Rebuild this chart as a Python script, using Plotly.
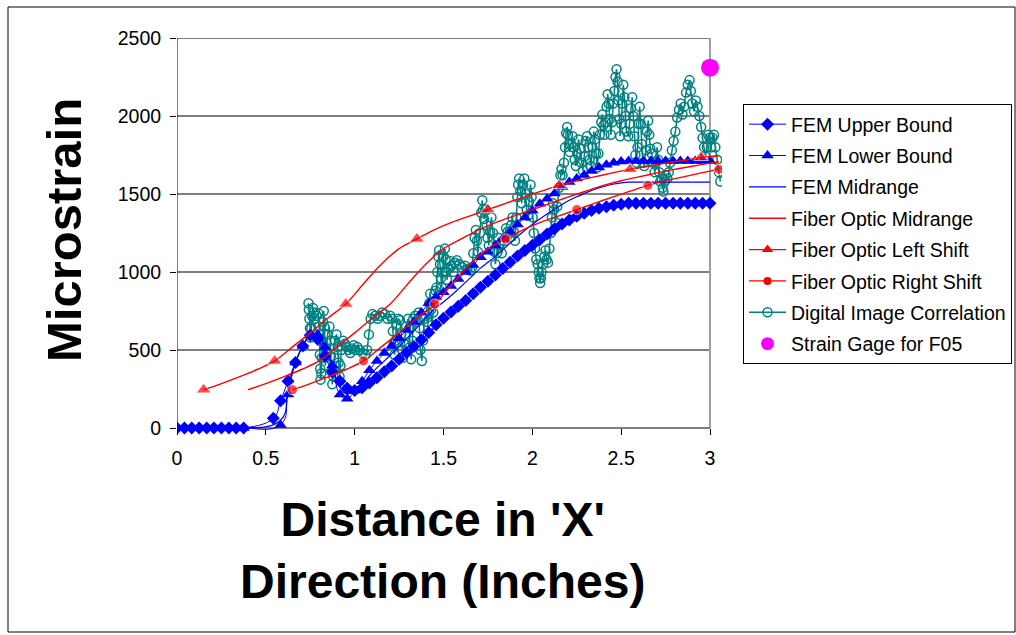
import plotly.graph_objects as go

# ---------------- data ----------------
# FEM node positions (inches)
fem_x = [0.000, 0.042, 0.083, 0.125, 0.167, 0.208, 0.250, 0.292, 0.333, 0.375,
         0.583, 0.625, 0.667, 0.708, 0.750, 0.792, 0.833, 0.875, 0.917, 0.958,
         1.000, 1.042, 1.083, 1.125, 1.167, 1.208, 1.250, 1.292, 1.333, 1.375,
         1.417, 1.458, 1.500, 1.542, 1.583, 1.625, 1.667, 1.708, 1.750, 1.792,
         1.833, 1.875, 1.917, 1.958, 2.000, 2.042, 2.083, 2.125, 2.167, 2.208,
         2.250, 2.292, 2.333, 2.375, 2.417, 2.458, 2.500, 2.542, 2.583, 2.625,
         2.667, 2.708, 2.750, 2.792, 2.833, 2.875, 2.917, 2.958, 3.000]
fem_upper_x = [0.000, 0.042, 0.083, 0.125, 0.167, 0.208, 0.250, 0.292, 0.333, 0.375,
               0.542, 0.583, 0.625, 0.667, 0.708, 0.750, 0.792, 0.833, 0.875, 0.917, 0.958,
               1.000, 1.042, 1.083, 1.125, 1.167, 1.208, 1.250, 1.292, 1.333, 1.375,
               1.417, 1.458, 1.500, 1.542, 1.583, 1.625, 1.667, 1.708, 1.750, 1.792,
               1.833, 1.875, 1.917, 1.958, 2.000, 2.042, 2.083, 2.125, 2.167, 2.208,
               2.250, 2.292, 2.333, 2.375, 2.417, 2.458, 2.500, 2.542, 2.583, 2.625,
               2.667, 2.708, 2.750, 2.792, 2.833, 2.875, 2.917, 2.958, 3.000]

fem_upper = [0, 0, 0, 0, 0, 0, 0, 0, 0, 0,
             62, 175, 300, 420, 525, 595, 570, 460, 360, 300, 255,
             240, 258, 288, 322, 360, 398, 440, 482, 522, 566,
             612, 662, 704, 744, 780, 818, 860, 902, 940, 980,
             1022, 1063, 1102, 1138, 1172, 1206, 1244, 1278, 1308, 1334,
             1357, 1377, 1395, 1408, 1419, 1428, 1435, 1440, 1440, 1440,
             1440, 1440, 1440, 1440, 1440, 1440, 1440, 1440, 1440]

fem_lower = [0, 0, 0, 0, 0, 0, 0, 0, 0, 0,
             20, 215, 420, 525, 595, 600, 520, 400, 215, 188,
             240, 300, 370, 430, 480, 525, 575, 630, 680, 740,
             800, 840, 870, 910, 955, 1000, 1045, 1095, 1130, 1170,
             1215, 1258, 1305, 1350, 1395, 1437, 1470, 1503, 1545, 1577,
             1600, 1622, 1648, 1670, 1688, 1700, 1708, 1712, 1712, 1712,
             1712, 1712, 1712, 1712, 1712, 1712, 1712, 1712, 1712]

fem_mid = [0, 0, 0, 0, 0, 0, 0, 0, 0, 0,
           50, 255, 420, 525, 592, 595, 500, 390, 260, 218,
           240, 280, 335, 385, 430, 475, 522, 572, 622, 675,
           728, 772, 808, 848, 890, 935, 980, 1025, 1062, 1100,
           1142, 1185, 1228, 1268, 1305, 1340, 1372, 1402, 1432, 1460,
           1482, 1503, 1523, 1539, 1553, 1564, 1571, 1576, 1576, 1576,
           1576, 1576, 1576, 1576, 1576, 1576, 1576, 1576, 1576]

# Fiber optic midrange profile; the left/right shifted curves move it by +/- fo_shift
fo_x = [0.4, 0.5, 0.6, 0.7, 0.8, 0.9, 1.0, 1.1, 1.2, 1.3,
        1.4, 1.5, 1.6, 1.7, 1.8, 1.9, 2.0, 2.1, 2.2, 2.3,
        2.4, 2.5, 2.6, 2.7, 2.8, 2.9, 3.0, 3.05, 3.1, 3.2, 3.3]
fo_mid = [245, 285, 328, 375, 430, 520, 610, 705, 795, 925,
          1050, 1150, 1212, 1272, 1320, 1360, 1400, 1440, 1480, 1518,
          1555, 1585, 1610, 1635, 1658, 1678, 1698, 1707, 1715, 1735, 1745]
fo_marker_nodes = [0.4, 0.8, 1.2, 1.6, 2.0, 2.4, 2.8, 3.2]
fo_shift = 0.25

# Digital image correlation readings
dic_x = [0.740, 0.742, 0.745, 0.748, 0.752, 0.756, 0.760, 0.765, 0.770, 0.775,
         0.785, 0.795, 0.800, 0.802, 0.804, 0.806, 0.808, 0.812, 0.815, 0.818,
         0.822, 0.826, 0.830, 0.832, 0.835, 0.840, 0.848, 0.858, 0.862, 0.866,
         0.870, 0.874, 0.880, 0.885, 0.890, 0.898, 0.905, 0.910, 0.915, 0.920,
         0.925, 0.935, 0.945, 0.955, 0.965, 0.975, 0.985, 0.995, 1.005, 1.015,
         1.030, 1.045, 1.060, 1.070, 1.080, 1.090, 1.100, 1.115, 1.130, 1.140,
         1.155, 1.170, 1.185, 1.200, 1.210, 1.215, 1.220, 1.225, 1.230, 1.235,
         1.245, 1.255, 1.262, 1.268, 1.272, 1.280, 1.290, 1.300, 1.308, 1.312,
         1.318, 1.325, 1.330, 1.340, 1.350, 1.360, 1.365, 1.370, 1.378, 1.385,
         1.392, 1.400, 1.410, 1.420, 1.425, 1.430, 1.436, 1.442, 1.448, 1.455,
         1.460, 1.465, 1.470, 1.475, 1.480, 1.485, 1.490, 1.495, 1.500, 1.508,
         1.512, 1.516, 1.520, 1.528, 1.535, 1.545, 1.555, 1.565, 1.575, 1.590,
         1.605, 1.620, 1.635, 1.650, 1.660, 1.668, 1.675, 1.682, 1.688, 1.694,
         1.705, 1.712, 1.718, 1.722, 1.728, 1.735, 1.742, 1.748, 1.755, 1.762,
         1.770, 1.778, 1.786, 1.792, 1.800, 1.808, 1.818, 1.828, 1.840, 1.852,
         1.862, 1.872, 1.880, 1.888, 1.895, 1.902, 1.910, 1.915, 1.920, 1.926,
         1.932, 1.940, 1.948, 1.955, 1.962, 1.968, 1.975, 1.982, 1.990, 1.996,
         2.002, 2.008, 2.015, 2.022, 2.030, 2.036, 2.040, 2.044, 2.048, 2.052,
         2.060, 2.068, 2.074, 2.080, 2.088, 2.096, 2.104, 2.110, 2.116, 2.122,
         2.130, 2.140, 2.150, 2.158, 2.164, 2.170, 2.178, 2.184, 2.190, 2.196,
         2.200, 2.205, 2.210, 2.218, 2.226, 2.232, 2.238, 2.245, 2.252, 2.260,
         2.268, 2.276, 2.284, 2.292, 2.300, 2.308, 2.315, 2.322, 2.330, 2.338,
         2.346, 2.352, 2.358, 2.365, 2.372, 2.380, 2.388, 2.394, 2.400, 2.406,
         2.412, 2.418, 2.424, 2.430, 2.436, 2.442, 2.448, 2.455, 2.462, 2.468,
         2.474, 2.480, 2.485, 2.490, 2.494, 2.500, 2.506, 2.512, 2.518, 2.524,
         2.530, 2.540, 2.548, 2.555, 2.562, 2.568, 2.574, 2.580, 2.586, 2.592,
         2.598, 2.604, 2.610, 2.616, 2.622, 2.630, 2.638, 2.645, 2.652, 2.658,
         2.664, 2.672, 2.680, 2.688, 2.695, 2.702, 2.708, 2.714, 2.720, 2.728,
         2.734, 2.738, 2.745, 2.752, 2.760, 2.768, 2.775, 2.785, 2.795, 2.805,
         2.815, 2.825, 2.835, 2.845, 2.855, 2.865, 2.875, 2.885, 2.892, 2.900,
         2.910, 2.920, 2.930, 2.940, 2.950, 2.958, 2.966, 2.974, 2.982, 2.990,
         2.998, 3.006, 3.014, 3.022, 3.030, 3.040, 3.050, 3.058]
dic_y = [800, 760, 700, 640, 580, 640, 720, 770, 740, 700,
         720, 735, 650, 560, 470, 380, 310, 350, 450, 560,
         680, 750, 650, 520, 400, 480, 600, 650, 560, 460,
         360, 280, 330, 450, 560, 600, 520, 420, 330, 400,
         500, 560, 540, 520, 500, 480, 510, 530, 500, 520,
         500, 480, 470, 500, 600, 700, 730, 720, 700, 720,
         740, 730, 700, 720, 700, 620, 540, 470, 560, 660,
         700, 690, 600, 500, 450, 540, 650, 700, 640, 520,
         440, 560, 700, 720, 680, 740, 640, 500, 430, 560,
         700, 720, 680, 800, 860, 760, 660, 740, 860, 880,
         900, 1000, 1100, 1140, 1050, 960, 900, 1000, 1100, 1150,
         1080, 1000, 950, 1020, 1070, 1040, 1000, 1060, 1075, 1050,
         1030, 1040, 1020, 1010, 1030, 1120, 1220, 1270, 1200, 1130,
         1250, 1380, 1460, 1400, 1340, 1400, 1300, 1220, 1170, 1260,
         1350, 1250, 1130, 1050, 1120, 1220, 1180, 1120, 1200, 1280,
         1260, 1220, 1300, 1350, 1260, 1200, 1350, 1480, 1560, 1600,
         1520, 1440, 1560, 1600, 1500, 1400, 1360, 1450, 1560, 1480,
         1350, 1250, 1150, 1080, 1050, 1000, 960, 930, 960, 1000,
         1050, 1100, 1140, 1080, 1060, 1150, 1250, 1350, 1440, 1400,
         1320, 1420, 1540, 1620, 1660, 1620, 1700, 1800, 1890, 1930,
         1880, 1820, 1770, 1820, 1870, 1800, 1720, 1680, 1760, 1850,
         1790, 1700, 1650, 1740, 1840, 1870, 1800, 1720, 1680, 1800,
         1900, 1850, 1760, 1670, 1760, 1880, 1960, 2010, 1940, 1880,
         1960, 2060, 2140, 2080, 1980, 1880, 1960, 2080, 2160, 2250,
         2300, 2220, 2100, 1980, 1870, 1950, 2080, 2200, 2120, 2000,
         1900, 1870, 1950, 2050, 2120, 2000, 1870, 1750, 1700, 1800,
         1950, 2060, 1950, 1820, 1700, 1680, 1780, 1900, 1970, 1880,
         1790, 1760, 1700, 1640, 1700, 1800, 1720, 1640, 1580, 1600,
         1540, 1515, 1580, 1620, 1600, 1640, 1700, 1780, 1840, 1900,
         1990, 2040, 2080, 2010, 2060, 2150, 2200, 2230, 2160, 2080,
         2030, 2100, 2060, 2000, 1930, 1860, 1800, 1740, 1800, 1880,
         1860, 1800, 1860, 1880, 1800, 1720, 1640, 1580]

gage_x = [3.0]
gage_y = [2310]

x_ticks = [0, 0.5, 1, 1.5, 2, 2.5, 3]
x_tick_text = ["0", "0.5", "1", "1.5", "2", "2.5", "3"]
y_ticks = [0, 500, 1000, 1500, 2000, 2500]
grid_levels = [500, 1000, 1500, 2000, 2500]

# ---------------- layout geometry (pixels) ----------------
W, H = 1016, 635
L, R, T, B = 177, 294, 38, 193
PW, PH = W - L - R, H - T - B
X_MAX = 3.0675
Y_MIN = -89.74
X_END = 3.06


def px(xp):
    return (xp - L) / PW


def py(yp):
    return (H - B - yp) / PH


FONT = "Liberation Sans, Arial, sans-serif"
BLUE = "#0000FF"
RED = "#FF0000"
TEAL = "#008080"


def clip(xs, ys):
    pts = [(a, b) for a, b in zip(xs, ys) if a <= X_END + 1e-9]
    return [p[0] for p in pts], [p[1] for p in pts]


def legend_entry(name, rank, line_color, marker=None):
    """Data-free trace that only supplies a legend swatch."""
    return go.Scatter(
        x=[None], y=[None], name=name,
        mode="lines+markers" if marker else "lines",
        line=dict(color=line_color, width=1.4),
        marker=marker, legendrank=rank, legendgroup="g%d" % rank)


fig = go.Figure()

# DIC first so the model curves sit on top of it
fig.add_trace(go.Scatter(
    x=dic_x, y=dic_y, mode="lines+markers", name="Digital Image Correlation",
    line=dict(color=TEAL, width=1.5),
    marker=dict(symbol="circle-open", size=9, color=TEAL, line=dict(width=1.5)),
    legendrank=7, legendgroup="g7"))

fig.add_trace(go.Scatter(
    x=fem_upper_x, y=fem_upper, mode="lines+markers", name="FEM Upper Bound",
    line=dict(color=BLUE, width=1, shape="spline", smoothing=1.3),
    marker=dict(symbol="diamond", size=10, color=BLUE),
    legendrank=1, legendgroup="g1"))
fig.add_trace(go.Scatter(
    x=fem_x, y=fem_lower, mode="lines+markers", name="FEM Lower Bound",
    line=dict(color=BLUE, width=1, shape="spline", smoothing=1.3),
    marker=dict(symbol="triangle-up", size=11, color=BLUE),
    legendrank=2, legendgroup="g2"))
fig.add_trace(go.Scatter(
    x=fem_x, y=fem_mid, mode="lines", name="FEM Midrange",
    line=dict(color=BLUE, width=1.2, shape="spline", smoothing=1.3),
    legendrank=3, legendgroup="g3"))

mx, my = clip(fo_x, fo_mid)
fig.add_trace(go.Scatter(
    x=mx, y=my, mode="lines", name="Fiber Optic Midrange",
    line=dict(color=RED, width=1.4, shape="spline"),
    legendrank=4, legendgroup="g4"))

lx, ly = clip([v - fo_shift for v in fo_x], fo_mid)
l_sizes = [13 if any(abs(v + fo_shift - n) < 1e-6 for n in fo_marker_nodes) else 0 for v in lx]
fig.add_trace(go.Scatter(
    x=lx, y=ly, mode="lines+markers", name="Fiber Optic Left Shift",
    line=dict(color=RED, width=1.4, shape="spline"),
    marker=dict(symbol="triangle-up", size=l_sizes, color=RED),
    showlegend=False, legendgroup="g5"))
fig.add_trace(legend_entry("Fiber Optic Left Shift", 5, RED,
                           dict(symbol="triangle-up", size=10, color=RED)))

rx, ry = clip([v + fo_shift for v in fo_x], fo_mid)
r_sizes = [10 if any(abs(v - fo_shift - n) < 1e-6 for n in fo_marker_nodes) else 0 for v in rx]
fig.add_trace(go.Scatter(
    x=rx, y=ry, mode="lines+markers", name="Fiber Optic Right Shift",
    line=dict(color=RED, width=1.4, shape="spline"),
    marker=dict(symbol="circle", size=r_sizes, color=RED),
    showlegend=False, legendgroup="g6"))
fig.add_trace(legend_entry("Fiber Optic Right Shift", 6, RED,
                           dict(symbol="circle", size=8, color=RED)))

fig.add_trace(go.Scatter(
    x=gage_x, y=gage_y, mode="markers", name="Strain Gage for F05",
    marker=dict(symbol="circle", size=18, color="#FF00FF"),
    cliponaxis=False, showlegend=False, legendgroup="g8"))
fig.add_trace(go.Scatter(
    x=[None], y=[None], mode="markers", name="Strain Gage for F05",
    marker=dict(symbol="circle", size=13, color="#FF00FF"),
    legendrank=8, legendgroup="g8"))

shapes = []
for g in grid_levels:
    shapes.append(dict(type="line", xref="x", yref="y", x0=0, x1=3, y0=g, y1=g,
                       line=dict(color="#000000", width=1), layer="below"))
# plot-area right edge
shapes.append(dict(type="line", xref="x", yref="y", x0=3, x1=3, y0=0, y1=2500,
                   line=dict(color="#A0A0A0", width=2), layer="below"))
# axis lines
shapes.append(dict(type="line", xref="x", yref="y", x0=0, x1=3, y0=0, y1=0,
                   line=dict(color="#000000", width=1), layer="below"))
shapes.append(dict(type="line", xref="x", yref="y", x0=0, x1=0, y0=0, y1=2500,
                   line=dict(color="#000000", width=1), layer="below"))
# chart frame
shapes.append(dict(type="rect", xref="paper", yref="paper",
                   x0=px(8), x1=px(1015), y0=py(632), y1=py(7),
                   line=dict(color="#000000", width=1)))

fig.update_layout(
    width=W, height=H,
    margin=dict(l=L, r=R, t=T, b=B, pad=0, autoexpand=False),
    paper_bgcolor="white", plot_bgcolor="white",
    font=dict(family=FONT, size=19.5, color="black"),
    shapes=shapes,
    showlegend=True,
    legend=dict(x=px(743), y=py(104), xanchor="left", yanchor="top",
                bgcolor="white", bordercolor="black", borderwidth=1,
                font=dict(family=FONT, size=19.5, color="black"),
                tracegroupgap=3, itemsizing="trace", itemwidth=37),
    xaxis=dict(range=[0, X_MAX], tickvals=x_ticks, ticktext=x_tick_text,
               ticks="outside", ticklen=6, tickcolor="black", showgrid=False,
               zeroline=False, showline=False, anchor="free",
               position=py(428), ticklabelstandoff=7,
               tickfont=dict(family=FONT, size=19.5)),
    yaxis=dict(range=[Y_MIN, 2500], tickvals=y_ticks, ticks="outside", ticklen=6,
               tickcolor="black", showgrid=False, zeroline=False, showline=False,
               ticklabelstandoff=5, tickfont=dict(family=FONT, size=19.5)),
    annotations=[
        dict(text="Microstrain", xref="paper", yref="paper", x=px(64), y=py(230),
             xanchor="center", yanchor="middle", textangle=-90, showarrow=False,
             font=dict(family=FONT, size=49, color="black", weight="bold")),
        dict(text="Distance in 'X'<br>Direction (Inches)", xref="paper", yref="paper",
             x=px(442), y=py(550), xanchor="center", yanchor="middle", showarrow=False,
             font=dict(family=FONT, size=48, color="black", weight="bold")),
    ],
)

fig.write_html("out.html")
